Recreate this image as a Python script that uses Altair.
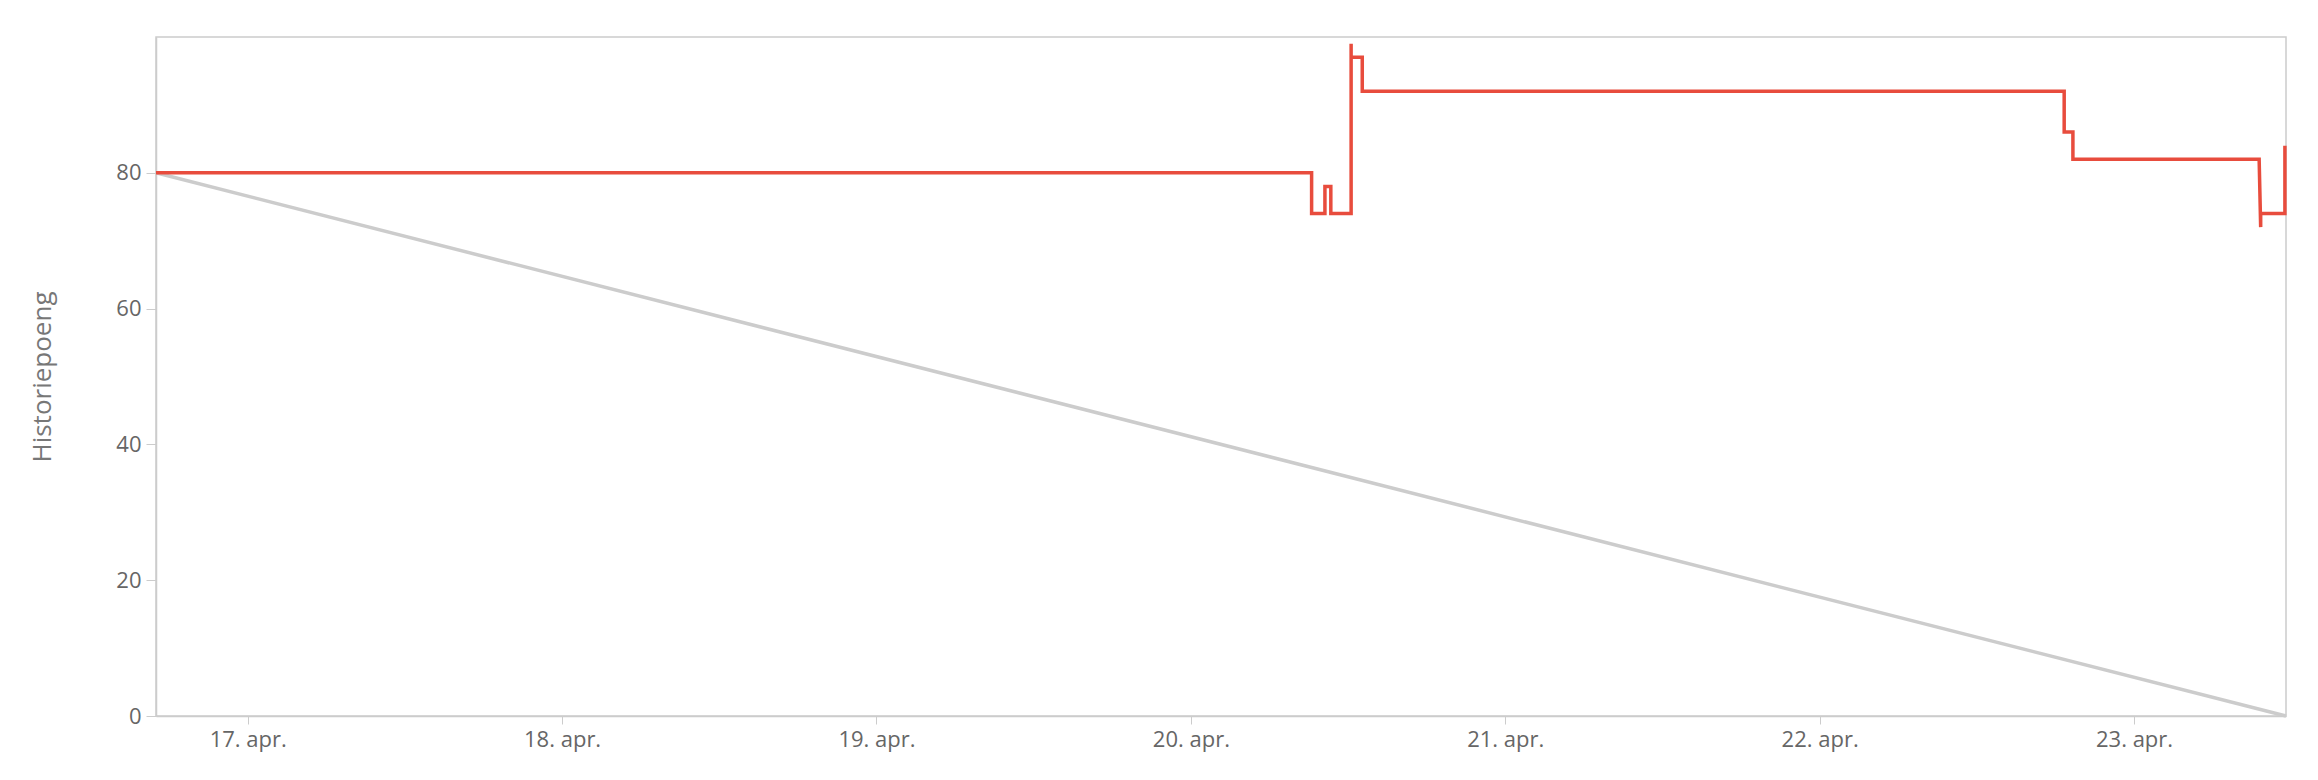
import altair as alt
import pandas as pd

# Red series: historiepoeng (step-like corner points)
red_times = [
    "2024-04-16T17:00", "2024-04-20T09:13", "2024-04-20T09:13", "2024-04-20T10:14",
    "2024-04-20T10:14", "2024-04-20T10:41", "2024-04-20T10:41", "2024-04-20T12:14",
    "2024-04-20T12:14", "2024-04-20T12:14", "2024-04-20T13:05", "2024-04-20T13:05",
    "2024-04-22T18:40", "2024-04-22T18:40", "2024-04-22T19:20", "2024-04-22T19:20",
    "2024-04-23T09:33", "2024-04-23T09:40", "2024-04-23T09:40", "2024-04-23T11:31",
    "2024-04-23T11:31",
]
red_values = [80, 80, 74, 74, 78, 78, 74, 74, 99, 97, 97, 92, 92, 86, 86, 82, 82, 72, 74, 74, 84]

# Grey reference line
grey_times = ["2024-04-16T17:00", "2024-04-23T11:36"]
grey_values = [80, 0]

x_domain = ["2024-04-16T17:00", "2024-04-23T11:36"]
tick_days = ["2024-04-17", "2024-04-18", "2024-04-19", "2024-04-20",
             "2024-04-21", "2024-04-22", "2024-04-23"]
y_ticks = [0, 20, 40, 60, 80]


def ms(s):
    return int(pd.Timestamp(s, tz="UTC").value // 10**6)


red_df = pd.DataFrame({"t": [ms(t) for t in red_times], "v": red_values,
                       "i": list(range(len(red_values)))})
grey_df = pd.DataFrame({"t": [ms(t) for t in grey_times], "v": grey_values,
                        "i": list(range(len(grey_values)))})

font = "Open Sans"
label_expr = ("utcdate(datum.value) + '. ' + ['jan','feb','mar','apr','mai','jun','jul','aug',"
              "'sep','okt','nov','des'][utcmonth(datum.value)] + '.'")

x_enc = alt.X("t:T", title=None,
              scale=alt.Scale(type="utc", domain=[ms(d) for d in x_domain], nice=False),
              axis=alt.Axis(values=[ms(d) for d in tick_days], labelExpr=label_expr,
                            grid=False, tickSize=8, tickColor="#cccccc", domainColor="#cccccc",
                            domainWidth=1.5, labelColor="#666666", labelFontSize=22,
                            labelFont=font, labelPadding=5, labelFlush=False))
y_enc = alt.Y("v:Q", title="Historiepoeng",
              scale=alt.Scale(domain=[0, 100], nice=False),
              axis=alt.Axis(values=y_ticks, grid=False, tickSize=10, tickColor="#cccccc",
                            domainColor="#cccccc", domainWidth=1.5, labelColor="#666666",
                            labelFontSize=22, labelFont=font, labelPadding=5,
                            titleFont=font, titleFontSize=26, titleFontWeight="normal",
                            titleColor="#777777", titlePadding=60))

grey = alt.Chart(grey_df).mark_line(color="#cccccc", strokeWidth=3.5).encode(
    x=x_enc, y=y_enc, order="i:Q")
red = alt.Chart(red_df).mark_line(color="#e84c3d", strokeWidth=3.5,
                                  strokeJoin="miter").encode(
    x=x_enc, y=y_enc, order="i:Q")

chart = alt.layer(grey, red).properties(
    width=2130, height=679,
    autosize=alt.AutoSizeParams(type="none"),
    padding={"left": 148, "top": 29, "right": 24, "bottom": 56},
).configure_view(stroke="#cccccc", strokeWidth=1.5)

chart.save("out.html", embed_options={"renderer": "svg", "actions": False})
